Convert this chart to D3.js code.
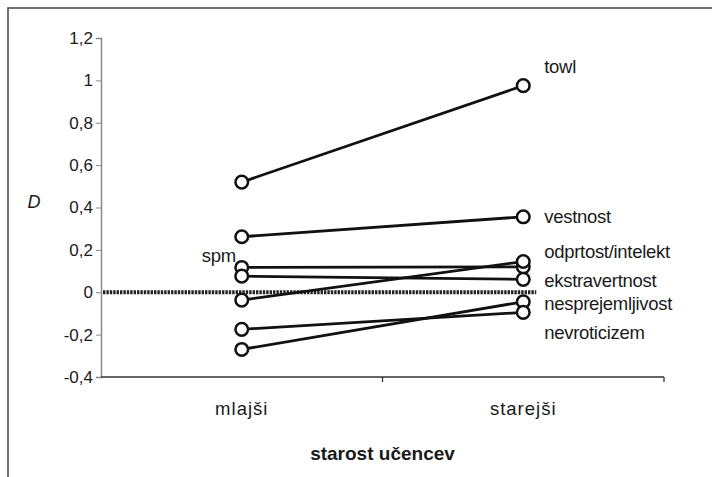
<!DOCTYPE html>
<html lang="sl">
<head>
    <meta charset="UTF-8">
    <title>D po starosti učencev</title>
    <script src="https://d3js.org/d3.v7.min.js"></script>
    <style>
        body {
            margin: 0;
            background: #fff;
            font-family: "Liberation Sans", Arial, sans-serif;
        }
        svg text {
            fill: #1a1a1a;
        }
    </style>
</head>
<body>
    <svg id="chart" width="712" height="477"></svg>

    <script>
        // data
        const categories = ["mlajši", "starejši"];
        const seriesNames = ["towl", "vestnost", "spm", "ekstravertnost", "odprtost/intelekt", "nesprejemljivost", "nevroticizem"];
        const youngerValues = [0.52, 0.262, 0.117, 0.076, -0.037, -0.27, -0.175];
        const olderValues   = [0.975, 0.356, 0.12, 0.061, 0.145, -0.045, -0.095];

        // reference line at zero
        const zeroLine = [0, 0];

        // where each name is written (in units of D) and at which category
        const labelValues = [1.035, 0.326, 0.161, 0.025, 0.161, -0.083, -0.22];
        const labelSide   = ["starejši", "starejši", "mlajši", "starejši", "starejši", "starejši", "starejši"];

        const yTicks = [-0.4, -0.2, 0, 0.2, 0.4, 0.6, 0.8, 1, 1.2];
        const yTickLabels = ["-0,4", "-0,2", "0", "0,2", "0,4", "0,6", "0,8", "1", "1,2"];

        const svg = d3.select("#chart");

        // outer frame (only top and left edges are in the picture)
        svg.append("path")
            .attr("d", "M8,477V8H712")
            .attr("fill", "none")
            .attr("stroke", "#444")
            .attr("stroke-width", 1.5);

        // scales
        const x = d3.scaleBand()
            .domain(categories)
            .range([101, 664]);

        const y = d3.scaleLinear()
            .domain([-0.4, 1.2])
            .range([377, 38]);

        const cx = c => x(c) + x.bandwidth() / 2;

        // y axis
        const yAxis = svg.append("g")
            .attr("transform", `translate(${x.range()[0]},0)`)
            .call(d3.axisLeft(y)
                .tickValues(yTicks)
                .tickSize(5)
                .tickPadding(3)
                .tickFormat((d, i) => yTickLabels[i]));
        yAxis.select(".domain").attr("stroke", "#888").attr("stroke-width", 1.5);
        yAxis.selectAll(".tick line").attr("stroke", "#888");
        yAxis.selectAll(".tick text")
            .attr("font-family", "'Liberation Sans', Arial, sans-serif")
            .attr("font-size", 17)
            .attr("fill", "#1a1a1a");

        // x axis: line with ticks between the categories
        const xAxis = svg.append("g");
        xAxis.append("line")
            .attr("x1", x.range()[0])
            .attr("x2", x.range()[1])
            .attr("y1", y(-0.4))
            .attr("y2", y(-0.4))
            .attr("stroke", "#333")
            .attr("stroke-width", 1.3);
        xAxis.selectAll(".xtick")
            .data(categories)
            .enter()
            .append("line")
            .attr("class", "xtick")
            .attr("x1", d => x(d) + x.bandwidth())
            .attr("x2", d => x(d) + x.bandwidth())
            .attr("y1", y(-0.4))
            .attr("y2", y(-0.4) + 5)
            .attr("stroke", "#333")
            .attr("stroke-width", 1.3);
        xAxis.selectAll(".xlabel")
            .data(categories)
            .enter()
            .append("text")
            .attr("class", "xlabel")
            .attr("x", d => cx(d))
            .attr("y", y(-0.4) + 38)
            .attr("text-anchor", "middle")
            .attr("font-size", 18.5)
            .attr("letter-spacing", 1)
            .text(d => d);

        // axis titles
        svg.append("text")
            .attr("x", (x.range()[0] + x.range()[1]) / 2)
            .attr("y", 460)
            .attr("text-anchor", "middle")
            .attr("font-size", 19)
            .attr("font-weight", "bold")
            .text("starost učencev");

        svg.append("text")
            .attr("x", 34)
            .attr("y", 208)
            .attr("text-anchor", "middle")
            .attr("font-size", 18)
            .attr("font-style", "italic")
            .text("D");

        // dotted zero line
        svg.append("line")
            .attr("x1", x.range()[0] + 2)
            .attr("x2", cx(categories[1]) + 13)
            .attr("y1", y(zeroLine[0]))
            .attr("y2", y(zeroLine[1]))
            .attr("stroke", "#222")
            .attr("stroke-width", 4)
            .attr("stroke-dasharray", "2.4,1");

        // one line + two markers per series
        const series = seriesNames.map((name, i) => ({
            name: name,
            values: [youngerValues[i], olderValues[i]]
        }));

        const line = d3.line()
            .x((d, i) => cx(categories[i]))
            .y(d => y(d));

        const g = svg.append("g");

        g.selectAll(".series")
            .data(series)
            .enter()
            .append("path")
            .attr("class", "series")
            .attr("d", d => line(d.values))
            .attr("fill", "none")
            .attr("stroke", "#111")
            .attr("stroke-width", 2.8);

        series.forEach(s => {
            g.selectAll(null)
                .data(s.values)
                .enter()
                .append("circle")
                .attr("cx", (d, i) => cx(categories[i]))
                .attr("cy", d => y(d))
                .attr("r", 6.3)
                .attr("fill", "#fff")
                .attr("stroke", "#111")
                .attr("stroke-width", 2.5);
        });

        // series names
        svg.selectAll(".slabel")
            .data(seriesNames)
            .enter()
            .append("text")
            .attr("class", "slabel")
            .attr("x", (d, i) => labelSide[i] === "mlajši" ? cx(labelSide[i]) - 40 : cx(labelSide[i]) + 21)
            .attr("y", (d, i) => labelSide[i] === "mlajši" ? y(0.142) : y(labelValues[i]))
            .attr("font-size", 18.5)
            .attr("letter-spacing", -0.3)
            .text(d => d);
    </script>
</body>
</html>
